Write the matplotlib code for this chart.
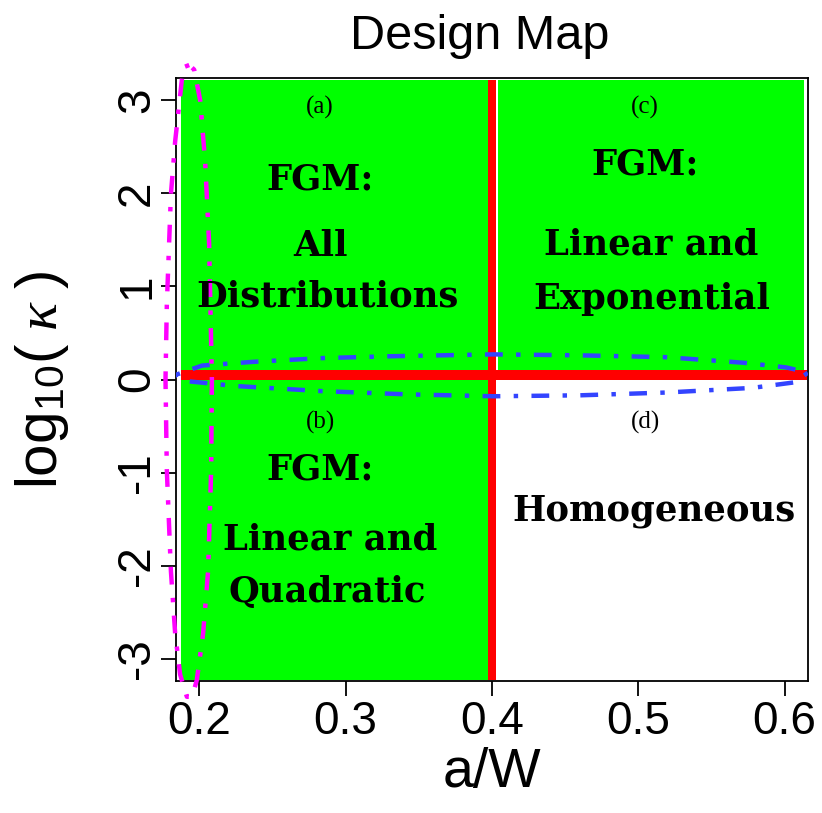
import numpy as np
import matplotlib
matplotlib.use("Agg")
import matplotlib.pyplot as plt
from matplotlib.patches import Rectangle

plt.rcParams['font.family'] = ['Liberation Sans', 'DejaVu Sans']
plt.rcParams['mathtext.fontset'] = 'custom'
plt.rcParams['mathtext.rm'] = 'Liberation Sans'
plt.rcParams['mathtext.it'] = 'Liberation Serif:italic'

# design boundaries
aw_split = 0.4
kappa_split = 0.0

xticks = [0.2, 0.3, 0.4, 0.5, 0.6]
yticks = [-3, -2, -1, 0, 1, 2, 3]

# blue contour (a/W, log10 kappa)
blue_x = [0.184, 0.202, 0.237, 0.284, 0.331, 0.401, 0.460, 0.519, 0.572, 0.601, 0.616,
          0.607, 0.578, 0.519, 0.460, 0.401, 0.343, 0.284, 0.225, 0.193, 0.184]
blue_y = [0.05, 0.15, 0.19, 0.23, 0.25, 0.27, 0.26, 0.24, 0.18, 0.13, 0.075,
          -0.03, -0.09, -0.14, -0.17, -0.18, -0.16, -0.125, -0.07, -0.02, 0.05]

# magenta contour
mag_x = [0.1932, 0.1891, 0.1836, 0.1807, 0.1779, 0.1770, 0.1779, 0.1807, 0.1836, 0.1870,
         0.1916, 0.1952, 0.1984, 0.2027, 0.2061, 0.2082, 0.2087, 0.2068, 0.2041, 0.2007,
         0.1966, 0.1932]
mag_y = [3.38, 3.355, 2.56, 1.99, 0.80, 0.0, -0.97, -2.06, -2.73, -3.17,
         -3.41, -3.41, -3.23, -2.73, -2.06, -0.97, 0.0, 1.46, 2.34, 3.0,
         3.33, 3.38]

fig = plt.figure(figsize=(8.22, 8.13), dpi=100)
ax = fig.add_axes([0.2138, 0.1624, 0.983 - 0.2138, 0.904 - 0.1624])
ax.set_xlim(0.184, 0.616)
ax.set_ylim(-3.24, 3.24)

green = '#00ff00'
x0, x1 = 0.1877, 0.6132
y0, y1 = -3.226, 3.215
ax.add_patch(Rectangle((x0, y0), aw_split - x0, y1 - y0, color=green, lw=0, zorder=1))
ax.add_patch(Rectangle((aw_split + 0.004, kappa_split), x1 - aw_split - 0.004, y1 - kappa_split,
                       color=green, lw=0, zorder=1))

# boundaries
ax.add_patch(Rectangle((x0, kappa_split), 0.615 - x0, 0.1, color='red', lw=0, zorder=2))
ax.add_patch(Rectangle((aw_split - 0.0025, y0), 0.0055, y1 - y0, color='red', lw=0, zorder=2))

ax.plot(blue_x, blue_y, color='#3344ff', lw=3.2, ls=(0, (1, 3, 4, 3)), zorder=3)
ax.plot(mag_x, mag_y, color='#ff00ff', lw=3.2, ls=(0, (1, 3, 4, 3)), zorder=3, clip_on=False)

tag_kw = dict(ha='center', va='center', fontsize=18, family='Liberation Serif', zorder=4)
lab_kw = dict(ha='center', va='center', fontsize=25.5, family='DejaVu Serif', weight='bold', zorder=4)

ax.text(0.2826, 2.92, '(a)', **tag_kw)
ax.text(0.2826, 2.15, 'FGM:', **lab_kw)
ax.text(0.2826, 1.43, 'All', **lab_kw)
ax.text(0.2876, 0.89, 'Distributions', **lab_kw)

ax.text(0.5047, 2.92, '(c)', **tag_kw)
ax.text(0.5047, 2.31, 'FGM:', **lab_kw)
ax.text(0.509, 1.45, 'Linear and', **lab_kw)
ax.text(0.509, 0.86, 'Exponential', **lab_kw)

ax.text(0.2826, -0.46, '(b)', **tag_kw)
ax.text(0.2826, -0.97, 'FGM:', **lab_kw)
ax.text(0.2896, -1.72, 'Linear and', **lab_kw)
ax.text(0.2876, -2.28, 'Quadratic', **lab_kw)

ax.text(0.5047, -0.46, '(d)', **tag_kw)
ax.text(0.511, -1.41, 'Homogeneous', **lab_kw)

ax.set_xticks(xticks)
ax.set_xticklabels([f'{v:.1f}' for v in xticks])
ax.set_yticks(yticks)
ax.set_yticklabels([str(v) for v in yticks], rotation=90, va='center')
ax.tick_params(direction='out', length=11, width=1.3, labelsize=33, pad=3)
ax.tick_params(axis='y', pad=1)
for s in ax.spines.values():
    s.set_linewidth(1.3)

ax.set_xlabel('a/W', fontsize=40, labelpad=2)
ax.set_ylabel(r'$\mathrm{log}_{10}(\ \kappa\ )$', fontsize=42, va='center')
ax.yaxis.set_label_coords(-0.211, 0.5)
fig.text(0.584, 0.955, 'Design Map', ha='center', va='center', fontsize=35)

fig.savefig('out.png', dpi=100)
